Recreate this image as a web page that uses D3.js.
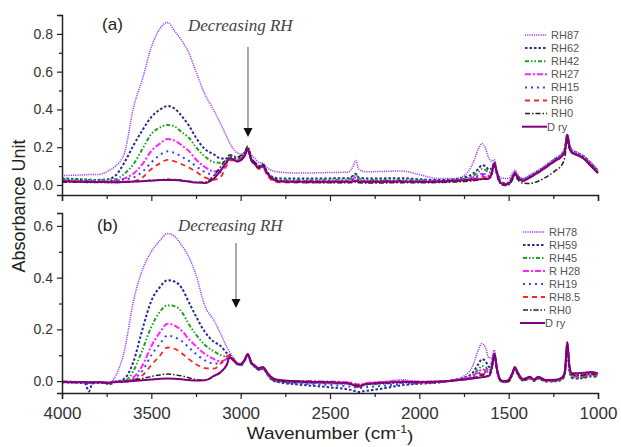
<!DOCTYPE html>
<html>
<head>
<meta charset="utf-8">
<title>FTIR spectra</title>
<script src="https://cdn.jsdelivr.net/npm/d3@7"></script>
<style>
  body { margin: 0; background: #fff; }
  svg { font-family: Arial, "Liberation Sans", Helvetica, sans-serif; }
</style>
</head>
<body>
<div id="chart"></div>
<script>
// wavenumber grid (cm-1), shared by every curve
const wavenumbers = [
  4000, 3950, 3900, 3870, 3850, 3830, 3800, 3760, 3740, 3700,
  3650, 3600, 3550, 3500, 3450, 3410, 3370, 3330, 3290, 3250,
  3200, 3150, 3110, 3080, 3060, 3040, 3020, 3000, 2980, 2960,
  2940, 2920, 2900, 2875, 2850, 2820,
  2780, 2700, 2600, 2500, 2400, 2370, 2355, 2340, 2300, 2200, 2100, 2000, 1900,
  1800, 1750, 1700, 1670, 1650, 1630, 1610, 1595, 1580, 1565, 1545, 1520, 1500, 1480, 1465, 1450,
  1420, 1380, 1360, 1335, 1290, 1240, 1200, 1185, 1172, 1160, 1145, 1120, 1080, 1040, 1000
];

// panel (a)
const labelsA = ["RH87", "RH62", "RH42", "RH27", "RH15", "RH6", "RH0", "D ry"];
const a_rh87 = [
  0.05, 0.051, 0.053, 0.054, 0.055, 0.055, 0.055, 0.065, 0.075, 0.1,
  0.17, 0.41, 0.56, 0.73, 0.83, 0.86, 0.815, 0.765, 0.7, 0.6,
  0.48, 0.395, 0.32, 0.26, 0.22, 0.19, 0.17, 0.165, 0.17, 0.19,
  0.16, 0.14, 0.12, 0.115, 0.09, 0.075,
  0.068, 0.064, 0.064, 0.066, 0.068, 0.1, 0.13, 0.085, 0.07, 0.072, 0.074, 0.055, 0.035,
  0.035, 0.05, 0.115, 0.19, 0.22, 0.195, 0.14, 0.125, 0.135, 0.07, 0.038, 0.035, 0.035, 0.06, 0.08, 0.055,
  0.035, 0.055, 0.065, 0.078, 0.108, 0.142, 0.17, 0.2, 0.27, 0.22, 0.19, 0.175, 0.155, 0.12, 0.08
];
const a_rh62 = [
  0.035, 0.033, 0.03, 0.029, 0.028, 0.027, 0.027, 0.029, 0.031, 0.05,
  0.12, 0.21, 0.29, 0.36, 0.4, 0.418, 0.405, 0.365, 0.315, 0.25,
  0.19, 0.162, 0.14, 0.14, 0.15, 0.145, 0.138, 0.145, 0.165, 0.195,
  0.14, 0.12, 0.1, 0.105, 0.067, 0.042,
  0.035, 0.034, 0.034, 0.035, 0.036, 0.05, 0.06, 0.04, 0.035, 0.035, 0.036, 0.03, 0.026,
  0.03, 0.04, 0.06, 0.085, 0.105, 0.1, 0.08, 0.09, 0.122, 0.07, 0.02, 0.01, 0.013, 0.043, 0.068, 0.048,
  0.03, 0.047, 0.058, 0.072, 0.102, 0.137, 0.165, 0.195, 0.268, 0.21, 0.18, 0.17, 0.15, 0.115, 0.075
];
const a_rh42 = [
  0.03, 0.029, 0.028, 0.027, 0.026, 0.025, 0.025, 0.026, 0.027, 0.03,
  0.06, 0.11, 0.19, 0.27, 0.305, 0.318, 0.31, 0.28, 0.25, 0.2,
  0.15, 0.122, 0.117, 0.13, 0.145, 0.14, 0.133, 0.14, 0.16, 0.19,
  0.135, 0.115, 0.095, 0.1, 0.062, 0.036,
  0.028, 0.027, 0.027, 0.028, 0.028, 0.045, 0.055, 0.032, 0.027, 0.027, 0.028, 0.025, 0.022,
  0.026, 0.033, 0.048, 0.068, 0.085, 0.08, 0.065, 0.08, 0.118, 0.065, 0.016, 0.007, 0.01, 0.04, 0.066, 0.046,
  0.028, 0.045, 0.056, 0.07, 0.1, 0.135, 0.163, 0.192, 0.265, 0.208, 0.178, 0.168, 0.148, 0.113, 0.072
];
const a_rh27 = [
  0.022, 0.021, 0.02, 0.019, 0.019, 0.018, 0.018, 0.019, 0.02, 0.022,
  0.035, 0.06, 0.11, 0.18, 0.22, 0.243, 0.235, 0.21, 0.18, 0.135,
  0.095, 0.072, 0.08, 0.12, 0.14, 0.135, 0.128, 0.137, 0.158, 0.19,
  0.132, 0.112, 0.09, 0.097, 0.058, 0.03,
  0.022, 0.02, 0.02, 0.02, 0.02, 0.032, 0.04, 0.024, 0.02, 0.02, 0.021, 0.02, 0.02,
  0.024, 0.03, 0.04, 0.052, 0.06, 0.057, 0.05, 0.07, 0.115, 0.06, 0.013, 0.005, 0.008, 0.037, 0.064, 0.044,
  0.026, 0.043, 0.054, 0.068, 0.098, 0.132, 0.16, 0.188, 0.265, 0.205, 0.175, 0.165, 0.145, 0.11, 0.07
];
const a_rh15 = [
  0.025, 0.024, 0.022, 0.021, 0.021, 0.02, 0.02, 0.02, 0.021, 0.022,
  0.03, 0.04, 0.07, 0.12, 0.16, 0.178, 0.17, 0.15, 0.128, 0.1,
  0.068, 0.055, 0.07, 0.115, 0.135, 0.13, 0.125, 0.135, 0.155, 0.185,
  0.13, 0.11, 0.09, 0.095, 0.055, 0.03,
  0.022, 0.02, 0.02, 0.02, 0.021, 0.03, 0.035, 0.022, 0.02, 0.021, 0.022, 0.02, 0.019,
  0.022, 0.027, 0.035, 0.045, 0.052, 0.05, 0.045, 0.065, 0.112, 0.058, 0.012, 0.005, 0.008, 0.036, 0.063, 0.043,
  0.025, 0.042, 0.053, 0.067, 0.096, 0.13, 0.158, 0.186, 0.26, 0.2, 0.172, 0.162, 0.142, 0.108, 0.068
];
const a_rh6 = [
  0.02, 0.019, 0.018, 0.017, 0.017, 0.016, 0.016, 0.016, 0.016, 0.016,
  0.018, 0.02, 0.04, 0.085, 0.115, 0.133, 0.125, 0.11, 0.093, 0.07,
  0.04, 0.028, 0.045, 0.1, 0.13, 0.13, 0.125, 0.135, 0.155, 0.19,
  0.13, 0.11, 0.085, 0.09, 0.05, 0.022,
  0.014, 0.013, 0.013, 0.014, 0.014, 0.02, 0.024, 0.016, 0.014, 0.015, 0.016, 0.015, 0.016,
  0.02, 0.024, 0.03, 0.038, 0.044, 0.042, 0.038, 0.06, 0.11, 0.055, 0.01, 0.003, 0.005, 0.033, 0.06, 0.04,
  0.022, 0.04, 0.05, 0.064, 0.093, 0.127, 0.155, 0.182, 0.26, 0.2, 0.17, 0.16, 0.14, 0.105, 0.065
];
const a_rh0 = [
  0.015, 0.015, 0.014, 0.014, 0.013, 0.013, 0.013, 0.013, 0.013, 0.013,
  0.015, 0.018, 0.021, 0.025, 0.028, 0.03, 0.029, 0.025, 0.02, 0.015,
  0.015, 0.05, 0.1, 0.14, 0.16, 0.155, 0.148, 0.155, 0.17, 0.205,
  0.14, 0.12, 0.1, 0.11, 0.065, 0.035,
  0.02, 0.015, 0.013, 0.012, 0.012, 0.014, 0.016, 0.012, 0.011, 0.011, 0.012, 0.012, 0.013,
  0.016, 0.018, 0.022, 0.026, 0.03, 0.03, 0.03, 0.055, 0.105, 0.05, 0.005, -0.003, 0.0, 0.025, 0.05, 0.03,
  0.01, 0.008, 0.012, 0.02, 0.042, 0.075, 0.11, 0.15, 0.235, 0.19, 0.17, 0.16, 0.14, 0.105, 0.065
];
const a_dry = [
  0.018, 0.018, 0.017, 0.017, 0.016, 0.016, 0.016, 0.016, 0.015, 0.015,
  0.016, 0.018, 0.02, 0.023, 0.026, 0.027, 0.026, 0.023, 0.018, 0.013,
  0.011, 0.035, 0.08, 0.12, 0.14, 0.135, 0.124, 0.13, 0.15, 0.186,
  0.13, 0.11, 0.09, 0.1, 0.06, 0.03,
  0.019, 0.017, 0.017, 0.017, 0.017, 0.02, 0.022, 0.018, 0.017, 0.018, 0.018, 0.017, 0.018,
  0.022, 0.025, 0.028, 0.03, 0.032, 0.033, 0.035, 0.06, 0.115, 0.06, 0.01, 0.003, 0.005, 0.035, 0.062, 0.04,
  0.022, 0.04, 0.052, 0.066, 0.095, 0.128, 0.155, 0.18, 0.265, 0.2, 0.17, 0.16, 0.14, 0.1, 0.062
];

// panel (b)
const labelsB = ["RH78", "RH59", "RH45", "R H28", "RH19", "RH8.5", "RH0", "D ry"];
const b_rh78 = [
  -0.002, -0.003, -0.004, -0.004, -0.005, -0.004, -0.004, -0.005, -0.007, 0.02,
  0.12, 0.31, 0.43, 0.5, 0.545, 0.571, 0.56, 0.525, 0.48, 0.41,
  0.29, 0.235, 0.18, 0.135, 0.11, 0.09, 0.07, 0.063, 0.077, 0.1,
  0.068, 0.055, 0.044, 0.048, 0.024, 0.002,
  -0.003, -0.006, -0.008, -0.01, -0.012, -0.014, -0.016, -0.017, -0.01, -0.002, 0.005, -0.002, -0.003,
  0.006, 0.02, 0.06, 0.12, 0.145, 0.13, 0.09, 0.09, 0.12, 0.05, 0.004, 0.0, 0.002, 0.026, 0.05, 0.03,
  0.004, 0.012, 0.004, 0.012, 0.001, 0.002, 0.012, 0.035, 0.145, 0.052, 0.022, 0.02, 0.022, 0.026, 0.024
];
const b_rh59 = [
  -0.004, -0.005, -0.006, -0.01, -0.04, -0.01, -0.006, -0.008, -0.012, -0.004,
  0.01, 0.075, 0.2, 0.31, 0.365, 0.39, 0.385, 0.36, 0.305, 0.25,
  0.19, 0.152, 0.135, 0.11, 0.1, 0.083, 0.067, 0.062, 0.076, 0.1,
  0.067, 0.055, 0.044, 0.048, 0.025, 0.003,
  -0.005, -0.012, -0.018, -0.024, -0.032, -0.036, -0.04, -0.042, -0.038, -0.028, -0.016, -0.01, -0.006,
  0.005, 0.013, 0.033, 0.065, 0.085, 0.078, 0.055, 0.07, 0.11, 0.045, 0.0, -0.004, -0.001, 0.024, 0.048, 0.027,
  0.002, 0.01, 0.001, 0.01, -0.002, -0.001, 0.007, 0.03, 0.14, 0.04, 0.012, 0.01, 0.013, 0.018, 0.016
];
const b_rh45 = [
  -0.003, -0.004, -0.004, -0.005, -0.006, -0.005, -0.004, -0.006, -0.009, -0.002,
  0.0, 0.04, 0.12, 0.21, 0.27, 0.293, 0.29, 0.268, 0.22, 0.18,
  0.14, 0.115, 0.1, 0.095, 0.095, 0.08, 0.066, 0.062, 0.076, 0.1,
  0.068, 0.056, 0.045, 0.05, 0.027, 0.007,
  0.0, -0.004, -0.006, -0.008, -0.01, -0.013, -0.016, -0.018, -0.014, -0.01, -0.006, -0.006, -0.004,
  0.004, 0.01, 0.024, 0.045, 0.058, 0.054, 0.04, 0.06, 0.105, 0.042, 0.001, -0.003, 0.0, 0.025, 0.05, 0.029,
  0.003, 0.011, 0.002, 0.011, 0.0, 0.001, 0.01, 0.035, 0.145, 0.048, 0.018, 0.015, 0.018, 0.022, 0.02
];
const b_rh28 = [
  -0.001, -0.002, -0.003, -0.003, -0.004, -0.003, -0.003, -0.004, -0.006, -0.001,
  -0.002, 0.015, 0.06, 0.135, 0.19, 0.222, 0.215, 0.195, 0.162, 0.135,
  0.105, 0.085, 0.076, 0.085, 0.095, 0.082, 0.068, 0.064, 0.078, 0.102,
  0.07, 0.058, 0.047, 0.052, 0.03, 0.01,
  0.002, 0.0, 0.0, -0.002, -0.004, -0.008, -0.012, -0.013, -0.008, -0.003, 0.0, -0.002, -0.002,
  0.004, 0.01, 0.02, 0.035, 0.045, 0.042, 0.032, 0.055, 0.105, 0.045, 0.004, 0.0, 0.003, 0.028, 0.053, 0.033,
  0.005, 0.013, 0.004, 0.013, 0.002, 0.003, 0.012, 0.038, 0.15, 0.055, 0.025, 0.025, 0.027, 0.03, 0.028
];
const b_rh19 = [
  -0.004, -0.005, -0.006, -0.008, -0.015, -0.008, -0.006, -0.007, -0.01, -0.003,
  -0.003, 0.008, 0.04, 0.1, 0.146, 0.176, 0.17, 0.155, 0.13, 0.105,
  0.08, 0.068, 0.07, 0.085, 0.09, 0.078, 0.064, 0.06, 0.075, 0.098,
  0.066, 0.055, 0.043, 0.048, 0.025, 0.005,
  -0.003, -0.008, -0.012, -0.015, -0.02, -0.022, -0.025, -0.027, -0.024, -0.018, -0.012, -0.008, -0.005,
  0.003, 0.008, 0.016, 0.027, 0.036, 0.034, 0.027, 0.05, 0.1, 0.038, 0.0, -0.004, 0.0, 0.024, 0.048, 0.027,
  0.003, 0.011, 0.002, 0.011, -0.001, 0.0, 0.008, 0.03, 0.14, 0.045, 0.015, 0.012, 0.015, 0.02, 0.018
];
const b_rh8_5 = [
  -0.002, -0.003, -0.003, -0.004, -0.006, -0.004, -0.004, -0.005, -0.007, -0.002,
  -0.002, 0.005, 0.022, 0.062, 0.1, 0.13, 0.125, 0.108, 0.085, 0.065,
  0.05, 0.048, 0.07, 0.095, 0.1, 0.085, 0.07, 0.066, 0.08, 0.104,
  0.07, 0.058, 0.046, 0.05, 0.028, 0.008,
  0.0, -0.003, -0.004, -0.005, -0.007, -0.01, -0.013, -0.014, -0.01, -0.006, -0.003, -0.006, -0.004,
  0.002, 0.006, 0.012, 0.02, 0.028, 0.027, 0.022, 0.045, 0.1, 0.04, 0.0, -0.004, 0.0, 0.025, 0.05, 0.028,
  0.004, 0.012, 0.003, 0.012, 0.0, 0.002, 0.01, 0.035, 0.145, 0.05, 0.02, 0.018, 0.02, 0.025, 0.022
];
const b_rh0 = [
  -0.003, -0.004, -0.005, -0.005, -0.006, -0.005, -0.005, -0.006, -0.008, -0.003,
  0.0, 0.003, 0.01, 0.018, 0.024, 0.027, 0.025, 0.02, 0.013, 0.006,
  0.003, 0.018, 0.035, 0.06, 0.09, 0.08, 0.068, 0.065, 0.08, 0.103,
  0.07, 0.06, 0.048, 0.053, 0.03, 0.01,
  0.0, -0.003, -0.005, -0.006, -0.008, -0.012, -0.016, -0.017, -0.012, -0.008, -0.005, -0.004, -0.002,
  0.002, 0.006, 0.012, 0.018, 0.024, 0.022, 0.02, 0.045, 0.1, 0.04, 0.002, -0.003, 0.0, 0.025, 0.05, 0.03,
  0.005, 0.013, 0.004, 0.013, 0.002, 0.003, 0.012, 0.035, 0.14, 0.055, 0.025, 0.022, 0.024, 0.028, 0.026
];
const b_dry = [
  -0.003, -0.004, -0.004, -0.004, -0.005, -0.004, -0.004, -0.005, -0.006, -0.003,
  -0.002, 0.0, 0.003, 0.006, 0.009, 0.01, 0.009, 0.007, 0.004, 0.002,
  0.003, 0.02, 0.036, 0.06, 0.092, 0.08, 0.068, 0.066, 0.08, 0.105,
  0.072, 0.06, 0.05, 0.055, 0.032, 0.012,
  0.004, 0.0, -0.003, -0.004, -0.008, -0.015, -0.02, -0.022, -0.012, -0.006, -0.003, -0.004, -0.002,
  0.003, 0.006, 0.01, 0.013, 0.015, 0.017, 0.02, 0.05, 0.105, 0.045, 0.004, 0.0, 0.005, 0.03, 0.055, 0.035,
  0.008, 0.017, 0.006, 0.017, 0.004, 0.005, 0.015, 0.04, 0.15, 0.06, 0.03, 0.03, 0.032, 0.035, 0.03
];

const xMajor = [4000, 3500, 3000, 2500, 2000, 1500, 1000];
const xMinor = [3750, 3250, 2750, 2250, 1750, 1250];
const yMajorA = [0, 0.2, 0.4, 0.6, 0.8];
const yMinorA = [0.1, 0.3, 0.5, 0.7, 0.9];
const yMajorB = [0, 0.2, 0.4, 0.6];
const yMinorB = [0.1, 0.3, 0.5];

// line styles, same order as the legends
const styles = [
  { color: "#9a40ff", dash: "1.2,1", w: 1.5 },
  { color: "#2a2a90", dash: "2.5,2", w: 2 },
  { color: "#22a022", dash: "4,2,1.5,2,1.5,2", w: 2 },
  { color: "#ff22ff", dash: "6,2,2,2", w: 2 },
  { color: "#3344ff", dash: "2,4", w: 2 },
  { color: "#ff2424", dash: "5,4", w: 1.8 },
  { color: "#222222", dash: "5,2,1.5,2", w: 1.5 },
  { color: "#800080", dash: null, w: 2 }
];

const width = 621, height = 447;
const x = d3.scaleLinear().domain([4000, 1000]).range([62, 598]);

const svg = d3.select("#chart").append("svg")
  .attr("width", width)
  .attr("height", height)
  .attr("viewBox", [0, 0, width, height]);

function panel(opts) {
  const y = d3.scaleLinear().domain(opts.yDomain).range(opts.yRange);
  const g = svg.append("g");
  const clipId = "clip-" + opts.name;

  g.append("clipPath").attr("id", clipId)
    .append("rect")
    .attr("x", x.range()[0]).attr("y", opts.yRange[1])
    .attr("width", x.range()[1] - x.range()[0] + 2)
    .attr("height", opts.yRange[0] - opts.yRange[1]);

  const line = d3.line()
    .x((d, i) => x(wavenumbers[i]))
    .y(d => y(d))
    .curve(d3.curveMonotoneX);

  const plot = g.append("g").attr("clip-path", `url(#${clipId})`);
  opts.series.forEach((vals, i) => {
    const s = styles[i];
    plot.append("path")
      .attr("d", line(vals))
      .attr("fill", "none")
      .attr("stroke", s.color)
      .attr("stroke-width", s.w)
      .attr("stroke-dasharray", s.dash)
      .attr("stroke-linejoin", "round");
  });

  // axes
  const yAxis = g.append("g").attr("transform", `translate(${x.range()[0]},0)`)
    .call(d3.axisLeft(y).tickValues(opts.yMajor).tickSize(5).tickPadding(4).tickFormat(d3.format(".1f")));
  g.append("g").attr("transform", `translate(${x.range()[0]},0)`)
    .call(d3.axisLeft(y).tickValues(opts.yMinor).tickSize(3).tickFormat(""))
    .call(a => a.select(".domain").remove());
  yAxis.selectAll("text").attr("fill", "#333").style("font-size", "14px");

  const xAxis = g.append("g").attr("transform", `translate(0,${opts.yRange[0]})`)
    .call(d3.axisBottom(x).tickValues(xMajor).tickSize(6).tickPadding(8)
      .tickFormat(opts.xLabels ? d3.format("d") : ""));
  g.append("g").attr("transform", `translate(0,${opts.yRange[0]})`)
    .call(d3.axisBottom(x).tickValues(xMinor).tickSize(4).tickFormat(""))
    .call(a => a.select(".domain").remove());
  xAxis.selectAll("text").attr("fill", "#333").style("font-size", "17px");

  g.selectAll(".domain").attr("stroke", "#222").attr("stroke-width", 1.5);
  g.selectAll(".tick line").attr("stroke", "#222").attr("stroke-width", 1.2);

  // panel tag and annotation
  g.append("text")
    .attr("x", x(opts.tag.w)).attr("y", y(opts.tag.v))
    .attr("fill", "#222").style("font-size", "17px")
    .text(opts.tag.text);

  g.append("text")
    .attr("x", x(opts.note.w)).attr("y", y(opts.note.v))
    .attr("fill", "#444")
    .style("font-family", "'Liberation Serif', 'DejaVu Serif', serif")
    .style("font-style", "italic")
    .style("font-size", "17px")
    .text("Decreasing RH");

  const ax = x(opts.arrow.w), ay0 = y(opts.arrow.v0), ay1 = y(opts.arrow.v1);
  g.append("line")
    .attr("x1", ax).attr("x2", ax).attr("y1", ay0).attr("y2", ay1 - 8)
    .attr("stroke", "#555").attr("stroke-width", 1);
  g.append("path")
    .attr("d", `M${ax - 4.5},${ay1 - 9}L${ax + 4.5},${ay1 - 9}L${ax},${ay1}Z`)
    .attr("fill", "#111");

  // legend
  const lg = g.append("g").style("font-size", "11px");
  opts.labels.forEach((lab, i) => {
    const s = styles[i];
    const ly = opts.legendTop + i * opts.legendStep;
    const isDry = i === opts.labels.length - 1;
    lg.append("line")
      .attr("x1", isDry ? opts.legendX - 3 : opts.legendX).attr("x2", opts.legendX + 22)
      .attr("y1", ly).attr("y2", ly)
      .attr("stroke", s.color).attr("stroke-width", s.w)
      .attr("stroke-dasharray", s.dash);
    lg.append("text")
      .attr("x", isDry ? opts.legendX + 22 : opts.legendX + 26).attr("y", ly).attr("dy", "0.35em")
      .attr("fill", "#555")
      .text(lab);
  });
}

panel({
  name: "a",
  yDomain: [-0.053, 0.9], yRange: [195, 15],
  yMajor: yMajorA, yMinor: yMinorA,
  series: [a_rh87, a_rh62, a_rh42, a_rh27, a_rh15, a_rh6, a_rh0, a_dry],
  labels: labelsA,
  xLabels: false,
  tag: { text: "(a)", w: 3776, v: 0.82 },
  note: { w: 3295, v: 0.816 },
  arrow: { w: 2959, v0: 0.731, v1: 0.254 },
  legendX: 525, legendTop: 35, legendStep: 13.1
});

panel({
  name: "b",
  yDomain: [-0.046, 0.65], yRange: [393, 213],
  yMajor: yMajorB, yMinor: yMinorB,
  series: [b_rh78, b_rh59, b_rh45, b_rh28, b_rh19, b_rh8_5, b_rh0, b_dry],
  labels: labelsB,
  xLabels: true,
  tag: { text: "(b)", w: 3804, v: 0.58 },
  note: { w: 3351, v: 0.581 },
  arrow: { w: 3026, v0: 0.534, v1: 0.283 },
  legendX: 523, legendTop: 232, legendStep: 13
});

// axis titles
svg.append("text")
  .attr("transform", "translate(25,206) rotate(-90)")
  .attr("text-anchor", "middle")
  .attr("fill", "#222")
  .style("font-size", "18px")
  .text("Absorbance Unit");

const xt = svg.append("text")
  .attr("transform", "translate(330,439) scale(1.12,1)")
  .attr("text-anchor", "middle")
  .attr("fill", "#222")
  .style("font-size", "17px");
xt.append("tspan").text("Wavenumber (cm");
xt.append("tspan").attr("dy", "-0.55em").style("font-size", "11px").text("-1");
xt.append("tspan").attr("dy", "0.55em").text(")");
</script>
</body>
</html>
